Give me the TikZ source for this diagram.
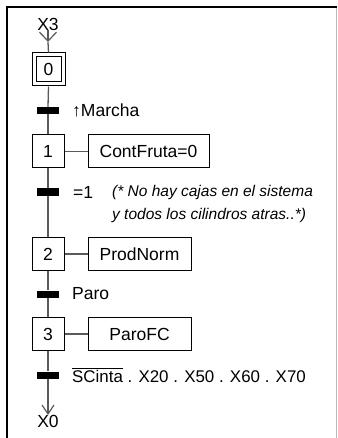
\documentclass[tikz,border=0pt]{standalone}
\usepackage{fontspec}
\setmainfont{Liberation Sans}
\usetikzlibrary{arrows.meta}
\definecolor{linegray}{gray}{0.35}
\tikzset{
  lbl/.style={inner sep=0pt, font=\fontsize{17.5}{20}\selectfont},
  cond/.style={lbl, anchor=west},
  cmt/.style={inner sep=0pt, anchor=west, font=\fontsize{15.5}{18}\selectfont\itshape},
  stepbox/.style={draw=black, line width=1pt, minimum width=32pt, minimum height=33pt, inner sep=0pt, font=\fontsize{17.5}{20}\selectfont},
  actbox/.style={draw=black, line width=1pt, minimum height=33pt, inner sep=0pt, font=\fontsize{17.5}{20}\selectfont},
  trbar/.style={fill=black, draw=none, minimum width=22pt, minimum height=7pt, inner sep=0pt},
  flow/.style={draw=linegray, line width=1.3pt},
  tip/.style={-{Straight Barb[length=9pt, width=#1, line width=1.2pt]}},
}
\begin{document}
\begin{tikzpicture}[x=1pt, y=-1pt]
\useasboundingbox (0,0) rectangle (337,438);
% frame
\draw[line width=2pt] (7,438) -- (7,7) -- (337,7);
\draw[gray!55, line width=1pt] (336,8) -- (336,438);
% top reference
\node[lbl] (x3) at (48,24) {X3};
\coordinate (vt) at (48,42);
% steps
\node[stepbox, minimum width=33pt] (s0) at (48.5,69.5) {};
\node[draw=black, line width=1pt, minimum width=25pt, minimum height=25pt, inner sep=0pt, font=\fontsize{17.5}{20}\selectfont] (s0i) at (48.5,69.5) {0};
\node[stepbox] (s1) at (48,151.5) {1};
\node[stepbox] (s2) at (48,254) {2};
\node[stepbox] (s3) at (48,334) {3};
% actions
\node[actbox, minimum width=121pt] (a1) at (148.5,151.5) {ContFruta=0};
\node[actbox, minimum width=103pt] (a2) at (139.5,254) {ProdNorm};
\node[actbox, minimum width=103pt] (a3) at (139.5,334) {ParoFC};
% transitions
\node[trbar] (t0) at (48,110.5) {};
\node[trbar] (t1) at (48,192) {};
\node[trbar] (t2) at (48,294) {};
\node[trbar] (t3) at (48,375) {};
% conditions
\node[cond] (c0) at (72,110.5) {↑Marcha};
\node[cond] (c1) at (73,192) {=1};
\node[cmt] (k1) at (112,192) {(* No hay cajas en el sistema};
\node[cmt] (k2) at (112,215) {y todos los cilindros atras..*)};
\node[cond] (c2) at (72,294) {Paro};
\node[cond, font=\fontsize{16.9}{20}\selectfont] (c3) at (72,375) {$\overline{\hbox{SCinta}}$ . X20 . X50 . X60 . X70};
% bottom reference
\node[lbl] (x0) at (48,421.5) {X0};
% flow lines
\draw[flow, tip=17pt] (x3.south) -- (vt);
\draw[flow] (vt) -- (s0.north);
\draw[flow] (s0.south) -- (t0.north);
\draw[flow] (t0.south) -- (s1.north);
\draw[flow] (s1.south) -- (t1.north);
\draw[flow] (t1.south) -- (s2.north);
\draw[flow] (s2.south) -- (t2.north);
\draw[flow] (t2.south) -- (s3.north);
\draw[flow] (s3.south) -- (t3.north);
\draw[flow, tip=12pt] (t3.south) -- (x0.north);
% action links
\draw[flow] (s1.east) -- (a1.west);
\draw[flow] (s2.east) -- (a2.west);
\draw[flow] (s3.east) -- (a3.west);
\end{tikzpicture}
\end{document}
